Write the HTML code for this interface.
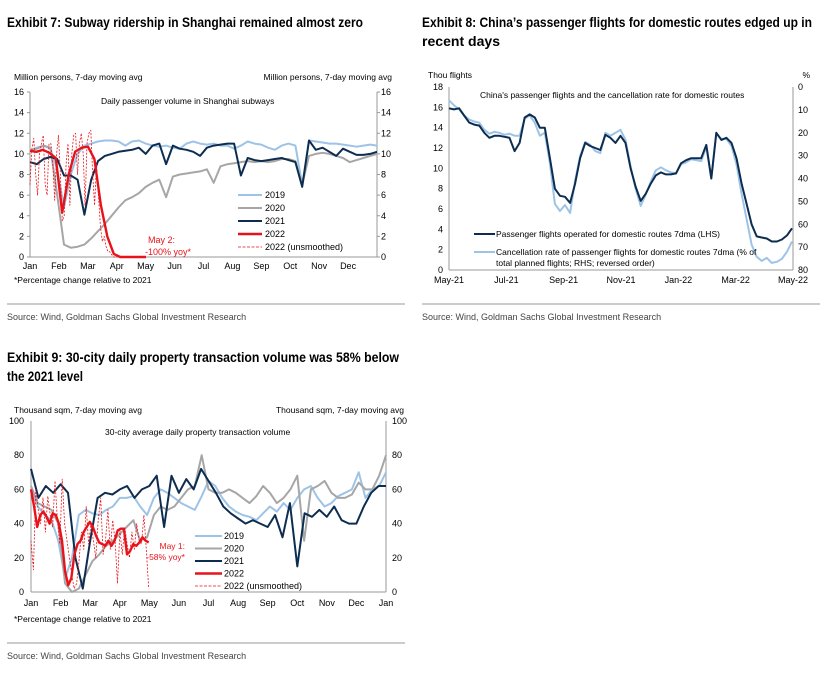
<!DOCTYPE html>
<html><head><meta charset="utf-8">
<style>
body{margin:0;background:#fff;width:827px;height:672px;overflow:hidden;font-family:"Liberation Sans",Arial,sans-serif}
svg text{font-family:"Liberation Sans",Arial,sans-serif}
.t{font-family:"Liberation Sans Narrow","Liberation Sans",sans-serif;font-weight:bold;font-size:14px;fill:#000}
</style></head>
<body>
<svg id="s" width="827" height="672" xmlns="http://www.w3.org/2000/svg">
<text class="t" x="7" y="27" textLength="356" lengthAdjust="spacingAndGlyphs">Exhibit 7: Subway ridership in Shanghai remained almost zero</text>
<text class="t" x="422" y="27" textLength="390" lengthAdjust="spacingAndGlyphs">Exhibit 8: China’s passenger flights for domestic routes edged up in</text>
<text class="t" x="422" y="46" textLength="78" lengthAdjust="spacingAndGlyphs">recent days</text>
<text class="t" x="7" y="362" textLength="392" lengthAdjust="spacingAndGlyphs">Exhibit 9: 30-city daily property transaction volume was 58% below</text>
<text class="t" x="7" y="381" textLength="76" lengthAdjust="spacingAndGlyphs">the 2021 level</text>
<line x1="7" y1="304" x2="405" y2="304" stroke="#999"/>
<line x1="422" y1="304" x2="820" y2="304" stroke="#999"/>
<line x1="7" y1="643" x2="405" y2="643" stroke="#999"/>
<text x="7" y="320" font-size="9" fill="#444">Source: Wind, Goldman Sachs Global Investment Research</text>
<text x="422" y="320" font-size="9" fill="#444">Source: Wind, Goldman Sachs Global Investment Research</text>
<text x="7" y="659" font-size="9" fill="#444">Source: Wind, Goldman Sachs Global Investment Research</text>
<g id="c1"></g>
<g id="c2"></g>
<g id="c3"></g>
</svg>
<script>
// ---- Chart 1 data (weekly, Million persons) ----
const c1Months=["Jan","Feb","Mar","Apr","May","Jun","Jul","Aug","Sep","Oct","Nov","Dec"];
const c1Ticks=[0,2,4,6,8,10,12,14,16];
const c1s2019=[10.3,10.6,10.8,10.5,8.5,4.8,8,10,10.8,11,11.2,11.3,11.3,11.2,10.8,11.2,11.3,11,10.8,10.7,10.8,10.6,10.5,11,11.2,11,10.9,11,10.8,10.8,10.5,10.8,11.2,11,10.9,10.6,10.4,10.8,11,10.8,7,11.3,11.2,11.1,11,11,10.9,10.8,10.7,10.8,10.9,10.8];
const c1s2020=[10.3,10.5,10.8,10.6,6,1.2,0.9,1.0,1.2,1.8,2.5,3.2,4,4.8,5.5,5.8,6.2,6.8,7.2,7.5,5.8,7.8,8,8.1,8.2,8.3,8.5,7.2,8.8,9.0,9.1,9.2,9.3,9.2,9.3,9.2,9.3,9.5,9.5,9.3,7,9.8,10,10.1,10,9.8,9.6,9.2,9.4,9.6,9.8,10];
const c1s2021=[9.2,9,9.5,9.7,9.5,7.9,7.9,7.5,4.1,7.5,9.3,9.8,10,10.2,10.3,10.4,10.6,10,10.8,11,9,10.8,10.5,10.4,10.2,9.8,10.6,10.8,10.9,11,11,7.9,9.6,9.4,9.3,9.4,9.5,9.6,9.4,9.2,6.8,11.3,10.4,10.6,10.2,9.8,10.5,10.2,9.9,9.9,10,10.2];
const c1s2022=[10.3,10.2,10.4,10.1,9.6,4.3,8,10.2,10.6,10.7,9.5,5,2,0.3,0,0,0,0,0];
const c1s2022raw=[7,10.5,11.5,8,6,10,11,11.8,7,6,11,11,9,5.5,10,11.8,8,3.5,4,9,11,5,10,11.8,12,8,11,12,10,5,11,12,12.3,8,5,9,6,3,1.5,2,1,0.5,0.5,0.2,0,0,0,0,0,0];
// ---- Chart 2 data ----
const c2Labels=["May-21","Jul-21","Sep-21","Nov-21","Jan-22","Mar-22","May-22"];
const c2LeftTicks=[0,2,4,6,8,10,12,14,16,18];
const c2RightTicks=[0,10,20,30,40,50,60,70,80];
const c2Flights=[15.9,15.8,15.9,15.2,14.5,14.3,14.2,13.5,13,13.2,13.2,13.1,13,11.7,12.5,15,15.3,15,14,14,11,8,7.3,7.2,6.6,8.5,11,12.5,12.2,12,11.8,13.3,13,12.5,13.2,12.5,10,8.2,6.8,7.5,8.5,9.3,9.6,9.4,9.4,9.5,10.5,10.8,11,11,11,12.3,9,13.5,12.8,13,12.5,11,8.5,6.5,4.5,3.3,3.2,3.1,2.8,2.8,3,3.4,4.1];
const c2Cancel=[5.8,8,9.8,12.4,14.2,15.1,15.6,18.7,20.4,19.6,20,20.9,20.4,21.3,21.3,13.8,12.4,15.6,21.3,20,33.3,51.1,54.2,51.6,55.1,40.9,30.2,24,25.3,28,28.9,20,21.3,20,18.7,23.1,34.7,44.4,52,47.1,41.3,36.4,35.1,36.4,37.3,37.8,33.8,32.9,31.6,32,32.4,26.2,40,20.4,22.7,22.7,25.8,33.8,46.7,57.8,68.9,74.2,76,74.7,76.9,76.4,75.1,72,67.6];
// ---- Chart 3 data ----
const c3Months=["Jan","Feb","Mar","Apr","May","Jun","Jul","Aug","Sep","Oct","Nov","Dec","Jan"];
const c3Ticks=[0,20,40,60,80,100];
const c3s2019=[60,50,45,42,30,8,20,45,48,46,45,48,50,55,55,56,50,45,55,60,58,55,52,50,48,56,65,62,55,50,47,45,44,42,46,50,47,52,48,55,60,62,55,50,52,56,58,60,70,55,60,62,70];
const c3s2020=[62,52,50,48,40,5,0,2,10,18,22,27,30,34,38,42,30,32,45,50,48,50,55,60,62,80,60,58,58,60,58,55,52,56,62,58,52,55,60,68,30,60,62,65,58,55,55,57,64,60,60,68,80];
const c3s2021=[72,55,62,58,63,58,20,2,30,55,58,57,60,62,55,60,62,68,38,68,58,66,60,72,65,58,50,46,43,40,42,40,38,45,32,52,15,46,44,48,44,50,42,40,40,50,58,62,62];
const c3s2022=[60,50,38,45,47,44,40,46,45,40,30,12,4,8,22,28,30,35,38,41,38,33,29,28,27,30,27,30,36,37,37,22,24,28,27,29,32,30,29];
const c3s2022raw=[30,13,60,48,40,55,35,56,45,38,65,42,28,66,40,30,20,10,2,5,18,35,25,50,28,40,30,20,42,55,22,30,48,25,42,30,5,36,22,38,28,20,35,25,40,30,28,45,25,2];

const NS="http://www.w3.org/2000/svg";
function mk(parent,tag,attrs){const e=document.createElementNS(NS,tag);for(const k in attrs)e.setAttribute(k,attrs[k]);parent.appendChild(e);return e;}
function txt(parent,x,y,s,size,anchor,fill){const e=mk(parent,"text",{x:x,y:y,"font-size":size,"text-anchor":anchor||"start",fill:fill||"#000"});e.textContent=s;return e;}
function line(g,vals,xf,yf,color,w,dash,name){
  const d=vals.map((v,i)=>(i?"L":"M")+xf(i).toFixed(1)+","+yf(v).toFixed(1)).join("");
  const p=mk(g,"path",{d:d,fill:"none",stroke:color,"stroke-width":w,"stroke-linejoin":"round"});
  if(dash)p.setAttribute("stroke-dasharray",dash);
  
  
  return p;
}
const LB="#9dc3e6",GR="#a6a6a6",NV="#0d2d50",RD="#e8131a";

// ===== Chart 1 =====
(function(){
  const g=document.getElementById("c1");
  const X0=30,X1=377,Y0=257,Y1=92;
  const y=v=>Y0-(v/16)*(Y0-Y1);
  const dayX=d=>X0+d/365*(X1-X0);
  mk(g,"line",{x1:X0,y1:Y1,x2:X0,y2:Y0,stroke:"#999"});
  mk(g,"line",{x1:X1,y1:Y1,x2:X1,y2:Y0,stroke:"#999"});
  mk(g,"line",{x1:X0,y1:Y0,x2:X1,y2:Y0,stroke:"#999"});
  c1Ticks.forEach(t=>{
    const a=txt(g,24,y(t)+3,String(t),9,"end");
    const b=txt(g,381,y(t)+3,String(t),9,"start");
    mk(g,"line",{x1:X0-3,y1:y(t),x2:X0,y2:y(t),stroke:"#999"});
    mk(g,"line",{x1:X1,y1:y(t),x2:X1+3,y2:y(t),stroke:"#999"});
  });
  c1Months.forEach((m,i)=>{const e=txt(g,X0+i*(X1-X0)/12,269,m,9,"middle");});
  let e=txt(g,14,80,"Million persons, 7-day moving avg",8.5);
  e=txt(g,392,80,"Million persons, 7-day moving avg",8.5,"end");
  e=txt(g,101,104,"Daily passenger volume in Shanghai subways",8.5);
  e=txt(g,14,283,"*Percentage change relative to 2021",8.5);
  const wk=n=>i=>dayX(i*365/(n-1));
  line(g,c1s2019,wk(c1s2019.length),y,LB,2,null,"line-2019");
  line(g,c1s2020,wk(c1s2020.length),y,GR,2,null,"line-2020");
  line(g,c1s2021,wk(c1s2021.length),y,NV,2,null,"line-2021");
  line(g,c1s2022raw,i=>dayX(i*2),y,RD,0.8,"2,1.5","line-2022-unsmoothed");
  line(g,c1s2022,i=>dayX(i*122/(c1s2022.length-1)),y,RD,2.4,null,"line-2022");
  const leg=[["2019",LB,2,null],["2020",GR,2,null],["2021",NV,2,null],["2022",RD,2.4,null],["2022 (unsmoothed)",RD,0.8,"3,1.5"]];
  leg.forEach((l,i)=>{const yy=195+i*13;
    const ln=mk(g,"line",{x1:238,y1:yy,x2:262,y2:yy,stroke:l[1],"stroke-width":l[2]});if(l[3])ln.setAttribute("stroke-dasharray",l[3]);
    const t=txt(g,265,yy+3,l[0],9);});
  e=txt(g,148,243,"May 2:",9,"start",RD);
  e=txt(g,145,255,"-100% yoy*",9,"start",RD);
})();

// ===== Chart 2 =====
(function(){
  const g=document.getElementById("c2");
  const X0=449,X1=793,Y0=270,Y1=87;
  const y=v=>Y0-(v/18)*(Y0-Y1);
  const yr=p=>Y1+(p/80)*(Y0-Y1);
  mk(g,"line",{x1:X0,y1:Y1,x2:X0,y2:Y0,stroke:"#999"});
  mk(g,"line",{x1:X1,y1:Y1,x2:X1,y2:Y0,stroke:"#999"});
  mk(g,"line",{x1:X0,y1:Y0,x2:X1,y2:Y0,stroke:"#999"});
  c2LeftTicks.forEach(t=>{const e=txt(g,443,y(t)+3,String(t),9,"end");});
  c2RightTicks.forEach(t=>{const e=txt(g,798,yr(t)+3,String(t),9,"start");});
  c2Labels.forEach((m,i)=>{const e=txt(g,X0+i*(X1-X0)/6,283,m,9,"middle");});
  let e=txt(g,428,78,"Thou flights",8.5);
  e=txt(g,810,78,"%",8.5,"end");
  e=txt(g,480,98,"China's passenger flights and the cancellation rate for domestic routes",8.5);
  const xf=n=>i=>X0+i*(X1-1-X0)/(n-1);
  line(g,c2Cancel,xf(c2Cancel.length),yr,LB,2,null,"line-cancellation-rate");
  line(g,c2Flights,xf(c2Flights.length),y,NV,2,null,"line-flights");
  mk(g,"line",{x1:474,y1:234,x2:495,y2:234,stroke:NV,"stroke-width":2});
  e=txt(g,496,237,"Passenger flights operated for domestic routes 7dma (LHS)",8.5);
  mk(g,"line",{x1:474,y1:252,x2:495,y2:252,stroke:LB,"stroke-width":2});
  e=txt(g,496,255,"Cancellation rate of passenger flights for domestic routes 7dma (% of",8.5);
  e=txt(g,496,266,"total planned flights; RHS; reversed order)",8.5);
})();

// ===== Chart 3 =====
(function(){
  const g=document.getElementById("c3");
  const X0=31,X1=386,Y0=592,Y1=421;
  const y=v=>Y0-(v/100)*(Y0-Y1);
  const dayX=d=>X0+d/365*(X1-X0);
  mk(g,"line",{x1:X0,y1:Y1,x2:X0,y2:Y0,stroke:"#999"});
  mk(g,"line",{x1:X1,y1:Y1,x2:X1,y2:Y0,stroke:"#999"});
  mk(g,"line",{x1:X0,y1:Y0,x2:X1,y2:Y0,stroke:"#999"});
  c3Ticks.forEach(t=>{
    const a=txt(g,24,y(t)+3,String(t),9,"end");
    const b=txt(g,392,y(t)+3,String(t),9,"start");
  });
  c3Months.forEach((m,i)=>{const e=txt(g,X0+i*(X1-X0)/12,606,m,9,"middle");});
  let e=txt(g,14,413,"Thousand sqm, 7-day moving avg",8.5);
  e=txt(g,404,413,"Thousand sqm, 7-day moving avg",8.5,"end");
  e=txt(g,105,435,"30-city average daily property transaction volume",8.5);
  e=txt(g,14,622,"*Percentage change relative to 2021",8.5);
  const wk=n=>i=>dayX(i*365/(n-1));
  line(g,c3s2019,wk(c3s2019.length),y,LB,2,null,"line-2019");
  line(g,c3s2020,wk(c3s2020.length),y,GR,2,null,"line-2020");
  line(g,c3s2021,wk(c3s2021.length),y,NV,2,null,"line-2021");
  line(g,c3s2022raw,i=>dayX(i*121/(c3s2022raw.length-1)),y,RD,0.8,"2,1.5","line-2022-unsmoothed");
  line(g,c3s2022,i=>dayX(i*121/(c3s2022.length-1)),y,RD,2.4,null,"line-2022");
  const leg=[["2019",LB,2,null],["2020",GR,2,null],["2021",NV,2,null],["2022",RD,2.4,null],["2022 (unsmoothed)",RD,0.8,"3,1.5"]];
  leg.forEach((l,i)=>{const yy=536+i*12.5;
    const ln=mk(g,"line",{x1:195,y1:yy,x2:222,y2:yy,stroke:l[1],"stroke-width":l[2]});if(l[3])ln.setAttribute("stroke-dasharray",l[3]);
    const t=txt(g,224,yy+3,l[0],9);});
  e=txt(g,185,549,"May 1:",8.5,"end",RD);
  e=txt(g,185,560,"-58% yoy*",8.5,"end",RD);
})();
</script>
</body></html>
